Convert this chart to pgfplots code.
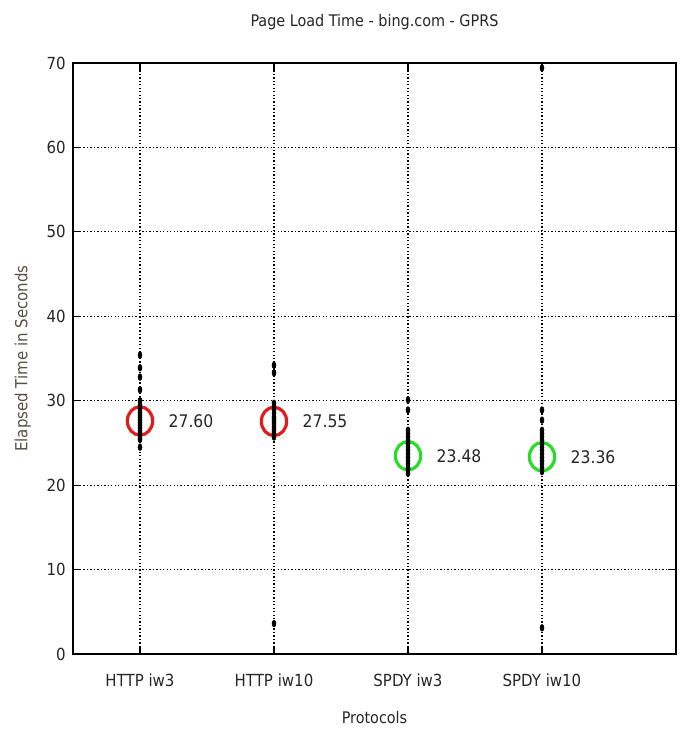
\documentclass[border=0pt]{standalone}
\usepackage{pgfplots}
\pgfplotsset{compat=1.18}
\usepackage{fontspec}
\setmainfont{DejaVu Sans Condensed}
\definecolor{circred}{RGB}{222,30,30}
\definecolor{circgreen}{RGB}{40,220,40}
\definecolor{labgray}{RGB}{90,80,70}
\begin{document}
\begin{tikzpicture}
\begin{axis}[name=ax, scale only axis, width=452.25pt, height=443.25pt,
  xmin=-0.5, xmax=4, ymin=0, ymax=70,
  xtick={0,1,2,3}, xticklabels={HTTP iw3, HTTP iw10, SPDY iw3, SPDY iw10},
  ytick={0,10,...,70},
  grid=major, grid style={black, line width=0.9pt, dash pattern=on 1pt off 1.6pt},
  tick align=inside, major tick length=6pt,
  tick style={black, line width=0.9pt},
  axis line style={line width=0.9pt},
  /pgf/number format/assume math mode=true,
  tick label style={font=\fontsize{12.5}{14}\selectfont, text=black!85},
  xticklabel style={yshift=-11pt},
  yticklabel style={xshift=-2pt},
  title={Page Load Time - bing.com - GPRS},
  title style={font=\fontsize{12}{14}\selectfont, text=black!85, yshift=15pt},
  xlabel={Protocols}, ylabel={Elapsed Time in Seconds},
  xlabel style={font=\fontsize{12}{14}\selectfont, text=black!85, yshift=-12pt},
  ylabel style={font=\fontsize{12.5}{14}\selectfont, text=labgray, yshift=5pt},
  clip=false,
]
\addplot[only marks, mark=o, mark size=9.5pt, mark options={yscale=1.12}, circred, line width=2.4pt,
  nodes near coords={\pgfmathprintnumber[fixed,precision=2,fixed zerofill]{\pgfplotspointmeta}},
  nodes near coords style={anchor=west, xshift=17pt, text=black!85, font=\fontsize{13}{14}\selectfont}]
  table {
x y
0 27.60
1 27.55
};
\addplot[only marks, mark=o, mark size=9.5pt, mark options={yscale=1.12}, circgreen, line width=2.4pt,
  nodes near coords={\pgfmathprintnumber[fixed,precision=2,fixed zerofill]{\pgfplotspointmeta}},
  nodes near coords style={anchor=west, xshift=17pt, text=black!85, font=\fontsize{13}{14}\selectfont}]
  table {
x y
2 23.48
3 23.36
};
\addplot[only marks, mark=*, mark size=1.5pt, mark options={yscale=1.7}, black] table {
x y
0 35.4
0 33.9
0 32.8
0 31.3
0 30.0
0 29.5
0 29.2
0 28.9
0 28.6
0 28.3
0 28.0
0 27.7
0 27.4
0 27.1
0 26.8
0 26.5
0 26.2
0 25.9
0 25.6
0 25.4
0 24.5
1 34.2
1 33.3
1 29.7
1 29.3
1 28.9
1 28.5
1 28.1
1 27.8
1 27.5
1 27.2
1 26.9
1 26.6
1 26.3
1 26.0
1 25.7
1 3.6
2 30.1
2 28.9
2 26.5
2 26.1
2 25.7
2 25.3
2 24.9
2 24.5
2 24.1
2 23.7
2 23.3
2 22.9
2 22.5
2 22.1
2 21.8
2 21.4
3 69.4
3 28.9
3 27.7
3 26.5
3 26.1
3 25.7
3 25.3
3 24.9
3 24.5
3 24.1
3 23.7
3 23.3
3 22.9
3 22.5
3 22.1
3 21.6
3 3.1
};
\end{axis}
\path[use as bounding box] ([shift={(-54.75pt,-64.5pt)}]ax.south west) rectangle ([shift={(7.5pt,47.25pt)}]ax.north east);
\end{tikzpicture}
\end{document}
